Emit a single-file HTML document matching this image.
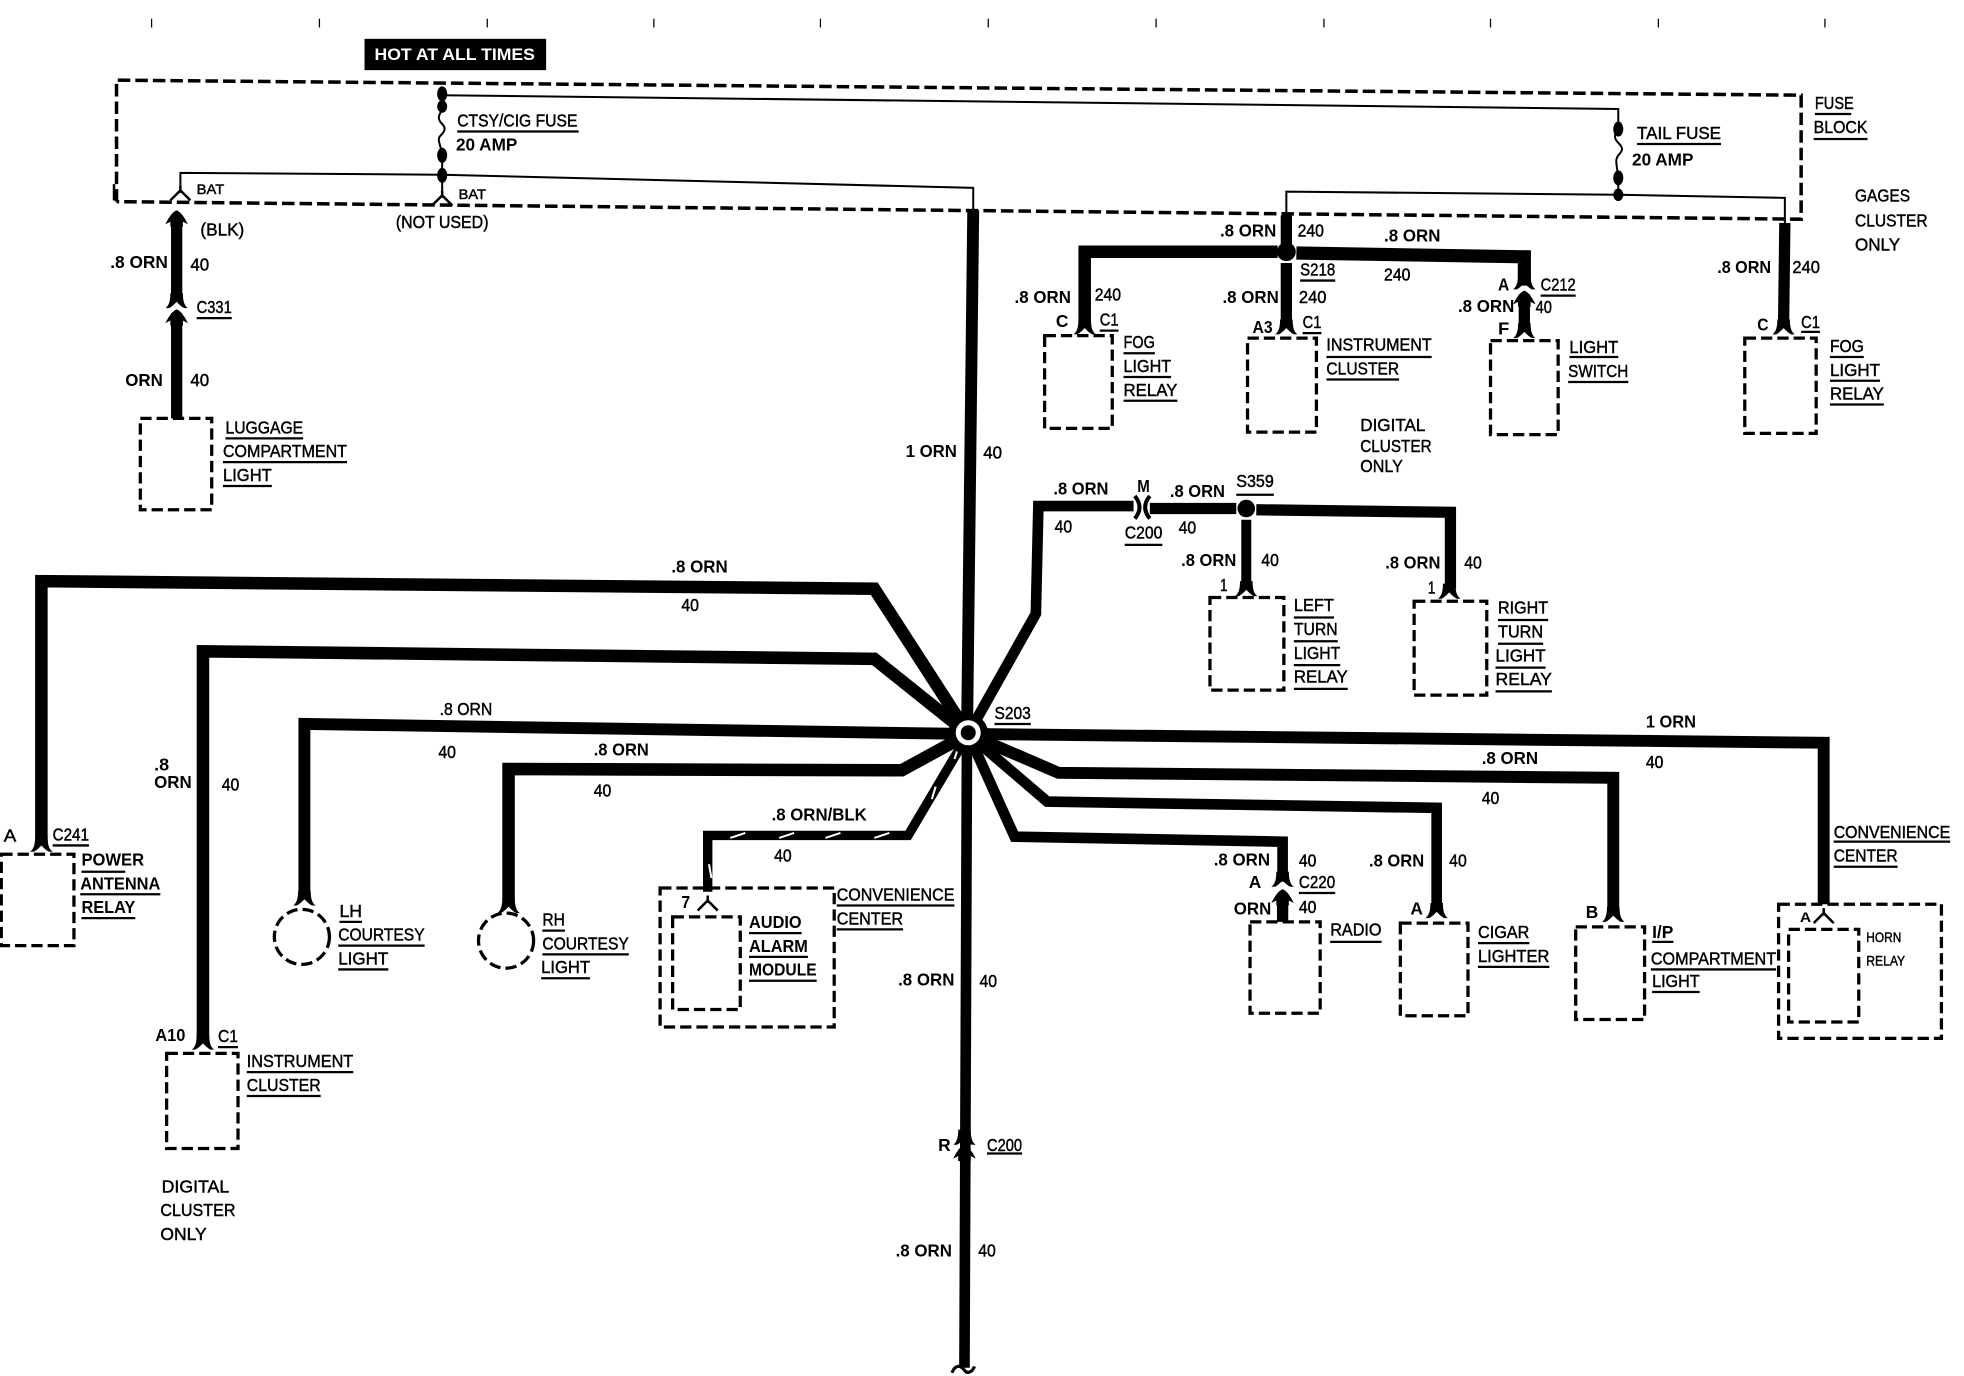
<!DOCTYPE html>
<html><head><meta charset="utf-8"><title>Wiring diagram</title>
<style>
html,body{margin:0;padding:0;background:#fff}
svg{display:block}
text{font-family:"Liberation Sans",sans-serif;font-size:14px;fill:#000}
.b{font-weight:bold}
.r{stroke:#000;stroke-width:.35}
.s{font-size:11px}
</style></head><body>
<svg xmlns="http://www.w3.org/2000/svg" width="1964" height="1376" viewBox="0 0 1568 1098.6">
<defs>
<path id="f" d="M-9 6C-6 4-5 0-5-6L5-6C5 0 6 4 9 6L6 6C4 5 2 3 0 1C-2 3-4 5-6 6Z"/>
<path id="a" d="M-9 7C-6 1-3-3 0-4C3-3 6 1 9 7L5 5L5 9L-5 9L-5 5Z"/>
<path id="y" d="M0-6V0M-8 6L0-2L8 6" fill="none" stroke="#000" stroke-width="2"/>
</defs>
<rect width="1568" height="1098.6" fill="#fff"/>
<!-- ticks -->
<path d="M121 15v7M255 15v7M389 15v7M522 15v7M655 15v7M789 15v7M923 15v7M1057 15v7M1190 15v7M1324 15v7M1457 15v7" stroke="#000" stroke-width="1" fill="none"/>
<rect x="291" y="31" width="145" height="25" fill="#000"/>
<text x="299" y="48" class="b" style="fill:#fff;font-size:13px" textLength="128" lengthAdjust="spacingAndGlyphs">HOT AT ALL TIMES</text>
<!-- fuse block -->
<path d="M93 161V64L1438 76V175L93 161" fill="none" stroke="#000" stroke-width="2.8" stroke-dasharray="10 4"/>
<path d="M91 147V160" stroke="#000" stroke-width="2"/>
<!-- thin lines -->
<g fill="none" stroke="#000" stroke-width="1.6">
<path d="M353 76L1292 87V102"/>
<path d="M353 76V88C349 93 350 96 353 99C357 103 354 106 351 109C349 112 352 116 353 124V141"/>
<path d="M1292 102C1288 108 1289 111 1292 114C1296 118 1296 120 1292 124C1289 128 1291 132 1292 142V155"/>
<path d="M144 148V138L353 139.5L777 150V172"/>
<path d="M353 141V152"/>
<path d="M1027 172V153L1292 155.5L1425 158V178"/>
</g>
<g fill="#000">
<ellipse cx="353" cy="75" rx="4" ry="6"/><ellipse cx="353" cy="85" rx="4" ry="5"/>
<ellipse cx="353" cy="124" rx="4" ry="6"/><ellipse cx="353" cy="140" rx="4" ry="6"/>
<ellipse cx="1292" cy="103" rx="4" ry="6"/><ellipse cx="1292" cy="142" rx="4" ry="6"/>
<ellipse cx="1292" cy="155.5" rx="4" ry="5"/>
</g>
<use href="#y" x="144" y="154"/><use href="#y" x="353" y="158"/>
<!-- thick wires -->
<g fill="none" stroke="#000" stroke-width="9">
<path d="M777 168L772 590" stroke-width="9.5"/>
<path d="M772 590L770 1092" stroke-width="8.5"/>
<path d="M141 172V240M141 250V334"/>
<path d="M1027 172V197M1027 210V258"/>
<path d="M866 258V201H1020" stroke-width="10"/>
<path d="M1035 202L1217 205V228" stroke-width="10.5"/>
<path d="M1217 235V262"/>
<path d="M1425 178L1424 258"/>
<path d="M773 586L698 470L33 464V672" stroke-width="10"/>
<path d="M773 586L698 526L162 520V830" stroke-width="10"/>
<path d="M773 586L243 578V712" stroke-width="9.5"/>
<path d="M773 586L720 615L406 614V718" stroke-width="10"/>
<path d="M773 586L725 667H565V712" stroke-width="7.5"/>
<path d="M773 586L1456 593V722" stroke-width="9.5"/>
<path d="M773 586L845 617L1288 621V725" stroke-width="9.5"/>
<path d="M773 586L836 640L1147 645V725" stroke-width="8.5"/>
<path d="M773 586L810 668L1024 672V704" stroke-width="8.5"/>
<path d="M773 586L827 490L829 404H905" stroke-width="8.5"/>
<path d="M918 406L987 406"/>
<path d="M1003 407L1158 409V470" stroke-width="9"/>
<path d="M995 415V470" stroke-width="8"/>
<path d="M1024 714V736"/>
</g>
<!-- S203 hub -->
<circle cx="773" cy="586" r="16" fill="#000"/>
<circle cx="773" cy="585" r="8" fill="#000" stroke="#fff" stroke-width="4"/>
<!-- junction dots -->
<circle cx="1027" cy="201" r="7.5" fill="#000"/>
<circle cx="995" cy="406" r="7" fill="#000"/>
<!-- hatch -->
<path d="M583 669L595 665M622 669L634 665M659 669L671 665M698 669L710 665M744 638L747 628M762 606L764 600M566 690L568 701" stroke="#fff" stroke-width="1.6" fill="none"/>
<!-- connectors -->
<use href="#a" x="141" y="172"/>
<use href="#f" x="141" y="240"/><use href="#a" x="141" y="251"/>
<use href="#f" x="866" y="261"/><use href="#f" x="1027" y="261"/><use href="#f" x="1217" y="264"/><use href="#f" x="1424" y="261"/>
<use href="#f" x="1217" y="225"/><use href="#a" x="1217" y="236"/>
<use href="#f" x="995" y="470"/><use href="#f" x="1157" y="472"/>
<use href="#f" x="33" y="674"/><use href="#f" x="162" y="832"/>
<use href="#f" x="243" y="717"/><use href="#f" x="406" y="723"/>
<use href="#f" x="1147" y="727"/><use href="#f" x="1288" y="730"/>
<use href="#f" x="1024" y="702"/><use href="#a" x="1024" y="714"/>
<use href="#f" x="770" y="908"/><use href="#a" x="770" y="918"/>
<use href="#y" x="565" y="721"/><use href="#y" x="1456" y="731"/>
<path d="M906 396C911 402 911 408 906 414M918 396C913 402 913 408 918 414" fill="none" stroke="#000" stroke-width="3.2"/>
<path d="M760 1096C763 1089 767 1090 770 1094C772 1097 776 1096 778 1091" fill="none" stroke="#000" stroke-width="2.5"/>
<!-- dashed boxes -->
<g fill="none" stroke="#000" stroke-width="2.6" stroke-dasharray="9 4">
<rect x="112" y="334" width="57" height="73"/>
<rect x="834" y="268" width="54" height="74"/>
<rect x="996" y="270" width="55" height="75"/>
<rect x="1190" y="272" width="54" height="75"/>
<rect x="1393" y="270" width="57" height="76"/>
<rect x="966" y="477" width="59" height="74"/>
<rect x="1129" y="480" width="58" height="75"/>
<rect x="1" y="682" width="58" height="73"/>
<rect x="133" y="841" width="57" height="76"/>
<rect x="527" y="709" width="139" height="111"/>
<rect x="537" y="732" width="54" height="74"/>
<rect x="998" y="736" width="56" height="73"/>
<rect x="1118" y="737" width="54" height="74"/>
<rect x="1258" y="740" width="55" height="74"/>
<rect x="1420" y="722" width="130" height="107"/>
<rect x="1428" y="742" width="56" height="74"/>
<circle cx="241" cy="748" r="22"/>
<circle cx="404" cy="751" r="22"/>
</g>
<!-- underlines -->
<path fill="none" stroke="#000" stroke-width="1.8" d="M1449 91H1478M1448 111H1491M365 105H462M1307 115H1374M157 254H185M180 350H242M178 369H277M178 388H217M1038 224H1066M878 264H893M897 282H922M897 301H935M897 320H940M1040 266H1055M1059 285H1143M1059 303H1117M1230 236H1258M1253 285H1292M1252 305H1300M1438 265H1453M1461 285H1488M1461 304H1501M1461 323H1504M987 395H1017M898 435H928M1033 493H1065M1033 512H1068M1033 531H1070M1033 550H1076M1196 495H1236M1196 514H1232M1194 533H1234M1194 552H1239M42 675H71M65 696H100M64 714H128M65 733H108M271 736H289M270 755H339M270 774H310M433 743H451M433 762H502M432 781H471M668 723H762M668 742H721M598 745H640M598 764H645M598 783H652M174 836H190M197 856H282M197 875H256M788 921H816M794 578H823M1037 713H1066M1062 752H1103M1180 753H1221M1180 772H1237M1319 752H1336M1318 774H1418M1319 792H1357M1464 672H1557M1464 692H1515"/>
<!-- labels -->
<g class="r">
<text x="1449" y="87" textLength="31" lengthAdjust="spacingAndGlyphs">FUSE</text>
<text x="1448" y="106" textLength="43" lengthAdjust="spacingAndGlyphs">BLOCK</text>
<text x="1481" y="161" textLength="44" lengthAdjust="spacingAndGlyphs">GAGES</text>
<text x="1481" y="181" textLength="58" lengthAdjust="spacingAndGlyphs">CLUSTER</text>
<text x="1481" y="200" textLength="36" lengthAdjust="spacingAndGlyphs">ONLY</text>
<text x="365" y="101" textLength="96" lengthAdjust="spacingAndGlyphs">CTSY/CIG FUSE</text>
<text x="1307" y="111" textLength="67" lengthAdjust="spacingAndGlyphs">TAIL FUSE</text>
<text x="157" y="155" class="s" textLength="22" lengthAdjust="spacingAndGlyphs">BAT</text>
<text x="366" y="159" class="s" textLength="22" lengthAdjust="spacingAndGlyphs">BAT</text>
<text x="160" y="188" textLength="35" lengthAdjust="spacingAndGlyphs">(BLK)</text>
<text x="316" y="182" textLength="74" lengthAdjust="spacingAndGlyphs">(NOT USED)</text>
<text x="152" y="216" textLength="15" lengthAdjust="spacingAndGlyphs">40</text>
<text x="157" y="250" textLength="28" lengthAdjust="spacingAndGlyphs">C331</text>
<text x="152" y="308" textLength="15" lengthAdjust="spacingAndGlyphs">40</text>
<text x="180" y="346" textLength="62" lengthAdjust="spacingAndGlyphs">LUGGAGE</text>
<text x="178" y="365" textLength="99" lengthAdjust="spacingAndGlyphs">COMPARTMENT</text>
<text x="178" y="384" textLength="39" lengthAdjust="spacingAndGlyphs">LIGHT</text>
<text x="785" y="366" textLength="15" lengthAdjust="spacingAndGlyphs">40</text>
<text x="1036" y="189" textLength="21" lengthAdjust="spacingAndGlyphs">240</text>
<text x="1038" y="220" textLength="28" lengthAdjust="spacingAndGlyphs">S218</text>
<text x="1105" y="224" textLength="21" lengthAdjust="spacingAndGlyphs">240</text>
<text x="874" y="240" textLength="21" lengthAdjust="spacingAndGlyphs">240</text>
<text x="878" y="260" textLength="15" lengthAdjust="spacingAndGlyphs">C1</text>
<text x="897" y="278" textLength="25" lengthAdjust="spacingAndGlyphs">FOG</text>
<text x="897" y="297" textLength="38" lengthAdjust="spacingAndGlyphs">LIGHT</text>
<text x="897" y="316" textLength="43" lengthAdjust="spacingAndGlyphs">RELAY</text>
<text x="1037" y="242" textLength="22" lengthAdjust="spacingAndGlyphs">240</text>
<text x="1040" y="262" textLength="15" lengthAdjust="spacingAndGlyphs">C1</text>
<text x="1059" y="280" textLength="84" lengthAdjust="spacingAndGlyphs">INSTRUMENT</text>
<text x="1059" y="299" textLength="58" lengthAdjust="spacingAndGlyphs">CLUSTER</text>
<text x="1230" y="232" textLength="28" lengthAdjust="spacingAndGlyphs">C212</text>
<text x="1226" y="250" textLength="13" lengthAdjust="spacingAndGlyphs">40</text>
<text x="1253" y="282" textLength="39" lengthAdjust="spacingAndGlyphs">LIGHT</text>
<text x="1252" y="301" textLength="48" lengthAdjust="spacingAndGlyphs">SWITCH</text>
<text x="1431" y="218" textLength="22" lengthAdjust="spacingAndGlyphs">240</text>
<text x="1438" y="262" textLength="15" lengthAdjust="spacingAndGlyphs">C1</text>
<text x="1461" y="281" textLength="27" lengthAdjust="spacingAndGlyphs">FOG</text>
<text x="1461" y="300" textLength="40" lengthAdjust="spacingAndGlyphs">LIGHT</text>
<text x="1461" y="319" textLength="43" lengthAdjust="spacingAndGlyphs">RELAY</text>
<text x="1086" y="344" textLength="52" lengthAdjust="spacingAndGlyphs">DIGITAL</text>
<text x="1086" y="361" textLength="57" lengthAdjust="spacingAndGlyphs">CLUSTER</text>
<text x="1086" y="377" textLength="34" lengthAdjust="spacingAndGlyphs">ONLY</text>
<text x="987" y="389" textLength="30" lengthAdjust="spacingAndGlyphs">S359</text>
<text x="842" y="425" textLength="14" lengthAdjust="spacingAndGlyphs">40</text>
<text x="898" y="430" textLength="30" lengthAdjust="spacingAndGlyphs">C200</text>
<text x="941" y="426" textLength="14" lengthAdjust="spacingAndGlyphs">40</text>
<text x="1007" y="452" textLength="14" lengthAdjust="spacingAndGlyphs">40</text>
<text x="1169" y="454" textLength="14" lengthAdjust="spacingAndGlyphs">40</text>
<text x="974" y="472" textLength="6" lengthAdjust="spacingAndGlyphs">1</text>
<text x="1140" y="474" textLength="6" lengthAdjust="spacingAndGlyphs">1</text>
<text x="1033" y="488" textLength="32" lengthAdjust="spacingAndGlyphs">LEFT</text>
<text x="1033" y="507" textLength="35" lengthAdjust="spacingAndGlyphs">TURN</text>
<text x="1033" y="526" textLength="37" lengthAdjust="spacingAndGlyphs">LIGHT</text>
<text x="1033" y="545" textLength="43" lengthAdjust="spacingAndGlyphs">RELAY</text>
<text x="1196" y="490" textLength="40" lengthAdjust="spacingAndGlyphs">RIGHT</text>
<text x="1196" y="509" textLength="36" lengthAdjust="spacingAndGlyphs">TURN</text>
<text x="1194" y="528" textLength="40" lengthAdjust="spacingAndGlyphs">LIGHT</text>
<text x="1194" y="547" textLength="45" lengthAdjust="spacingAndGlyphs">RELAY</text>
<text x="544" y="488" textLength="14" lengthAdjust="spacingAndGlyphs">40</text>
<text x="351" y="571" textLength="42" lengthAdjust="spacingAndGlyphs">.8 ORN</text>
<text x="350" y="605" textLength="14" lengthAdjust="spacingAndGlyphs">40</text>
<text x="474" y="636" textLength="14" lengthAdjust="spacingAndGlyphs">40</text>
<text x="618" y="688" textLength="14" lengthAdjust="spacingAndGlyphs">40</text>
<text x="177" y="631" textLength="14" lengthAdjust="spacingAndGlyphs">40</text>
<text x="3" y="672" textLength="10" lengthAdjust="spacingAndGlyphs">A</text>
<text x="42" y="671" textLength="29" lengthAdjust="spacingAndGlyphs">C241</text>
<text x="271" y="732" textLength="18" lengthAdjust="spacingAndGlyphs">LH</text>
<text x="270" y="751" textLength="69" lengthAdjust="spacingAndGlyphs">COURTESY</text>
<text x="270" y="770" textLength="40" lengthAdjust="spacingAndGlyphs">LIGHT</text>
<text x="433" y="739" textLength="18" lengthAdjust="spacingAndGlyphs">RH</text>
<text x="433" y="758" textLength="69" lengthAdjust="spacingAndGlyphs">COURTESY</text>
<text x="432" y="777" textLength="39" lengthAdjust="spacingAndGlyphs">LIGHT</text>
<text x="668" y="719" textLength="94" lengthAdjust="spacingAndGlyphs">CONVENIENCE</text>
<text x="668" y="738" textLength="53" lengthAdjust="spacingAndGlyphs">CENTER</text>
<text x="782" y="788" textLength="14" lengthAdjust="spacingAndGlyphs">40</text>
<text x="174" y="832" textLength="16" lengthAdjust="spacingAndGlyphs">C1</text>
<text x="197" y="852" textLength="85" lengthAdjust="spacingAndGlyphs">INSTRUMENT</text>
<text x="197" y="871" textLength="59" lengthAdjust="spacingAndGlyphs">CLUSTER</text>
<text x="129" y="952" textLength="54" lengthAdjust="spacingAndGlyphs">DIGITAL</text>
<text x="128" y="971" textLength="60" lengthAdjust="spacingAndGlyphs">CLUSTER</text>
<text x="128" y="990" textLength="37" lengthAdjust="spacingAndGlyphs">ONLY</text>
<text x="788" y="919" textLength="28" lengthAdjust="spacingAndGlyphs">C200</text>
<text x="781" y="1003" textLength="14" lengthAdjust="spacingAndGlyphs">40</text>
<text x="794" y="574" textLength="29" lengthAdjust="spacingAndGlyphs">S203</text>
<text x="1314" y="613" textLength="14" lengthAdjust="spacingAndGlyphs">40</text>
<text x="1183" y="642" textLength="14" lengthAdjust="spacingAndGlyphs">40</text>
<text x="1037" y="692" textLength="14" lengthAdjust="spacingAndGlyphs">40</text>
<text x="1037" y="709" textLength="29" lengthAdjust="spacingAndGlyphs">C220</text>
<text x="1037" y="729" textLength="14" lengthAdjust="spacingAndGlyphs">40</text>
<text x="1062" y="747" textLength="41" lengthAdjust="spacingAndGlyphs">RADIO</text>
<text x="1157" y="692" textLength="14" lengthAdjust="spacingAndGlyphs">40</text>
<text x="1180" y="749" textLength="41" lengthAdjust="spacingAndGlyphs">CIGAR</text>
<text x="1180" y="768" textLength="57" lengthAdjust="spacingAndGlyphs">LIGHTER</text>
<text x="1318" y="770" textLength="100" lengthAdjust="spacingAndGlyphs">COMPARTMENT</text>
<text x="1319" y="788" textLength="38" lengthAdjust="spacingAndGlyphs">LIGHT</text>
<text x="1464" y="669" textLength="93" lengthAdjust="spacingAndGlyphs">CONVENIENCE</text>
<text x="1464" y="688" textLength="51" lengthAdjust="spacingAndGlyphs">CENTER</text>
<text x="1490" y="752" class="s" textLength="28" lengthAdjust="spacingAndGlyphs">HORN</text>
<text x="1490" y="771" class="s" textLength="31" lengthAdjust="spacingAndGlyphs">RELAY</text>
</g>
<g class="b">
<text class="b" x="364" y="120" textLength="49" lengthAdjust="spacingAndGlyphs">20 AMP</text>
<text class="b" x="1303" y="132" textLength="49" lengthAdjust="spacingAndGlyphs">20 AMP</text>
<text class="b" x="88" y="214" textLength="46" lengthAdjust="spacingAndGlyphs">.8 ORN</text>
<text class="b" x="100" y="308" textLength="30" lengthAdjust="spacingAndGlyphs">ORN</text>
<text class="b" x="723" y="365" textLength="41" lengthAdjust="spacingAndGlyphs">1 ORN</text>
<text class="b" x="974" y="189" textLength="45" lengthAdjust="spacingAndGlyphs">.8 ORN</text>
<text class="b" x="1105" y="193" textLength="45" lengthAdjust="spacingAndGlyphs">.8 ORN</text>
<text class="b" x="810" y="242" textLength="45" lengthAdjust="spacingAndGlyphs">.8 ORN</text>
<text class="b" x="843" y="261" textLength="10" lengthAdjust="spacingAndGlyphs">C</text>
<text class="b" x="976" y="242" textLength="45" lengthAdjust="spacingAndGlyphs">.8 ORN</text>
<text class="b" x="1000" y="266" textLength="16" lengthAdjust="spacingAndGlyphs">A3</text>
<text class="b" x="1196" y="232" textLength="9" lengthAdjust="spacingAndGlyphs">A</text>
<text class="b" x="1164" y="249" textLength="45" lengthAdjust="spacingAndGlyphs">.8 ORN</text>
<text class="b" x="1196" y="267" textLength="9" lengthAdjust="spacingAndGlyphs">F</text>
<text class="b" x="1371" y="218" textLength="43" lengthAdjust="spacingAndGlyphs">.8 ORN</text>
<text class="b" x="1403" y="264" textLength="9" lengthAdjust="spacingAndGlyphs">C</text>
<text class="b" x="841" y="395" textLength="44" lengthAdjust="spacingAndGlyphs">.8 ORN</text>
<text class="b" x="908" y="393" textLength="10" lengthAdjust="spacingAndGlyphs">M</text>
<text class="b" x="934" y="397" textLength="44" lengthAdjust="spacingAndGlyphs">.8 ORN</text>
<text class="b" x="943" y="452" textLength="44" lengthAdjust="spacingAndGlyphs">.8 ORN</text>
<text class="b" x="1106" y="454" textLength="44" lengthAdjust="spacingAndGlyphs">.8 ORN</text>
<text class="b" x="536" y="457" textLength="45" lengthAdjust="spacingAndGlyphs">.8 ORN</text>
<text class="b" x="474" y="603" textLength="44" lengthAdjust="spacingAndGlyphs">.8 ORN</text>
<text class="b" x="616" y="655" textLength="76" lengthAdjust="spacingAndGlyphs">.8 ORN/BLK</text>
<text class="b" x="123" y="615" textLength="12" lengthAdjust="spacingAndGlyphs">.8</text>
<text class="b" x="123" y="629" textLength="30" lengthAdjust="spacingAndGlyphs">ORN</text>
<text class="b" x="65" y="691" textLength="50" lengthAdjust="spacingAndGlyphs">POWER</text>
<text class="b" x="64" y="710" textLength="64" lengthAdjust="spacingAndGlyphs">ANTENNA</text>
<text class="b" x="65" y="729" textLength="43" lengthAdjust="spacingAndGlyphs">RELAY</text>
<text class="b" x="544" y="725" textLength="7" lengthAdjust="spacingAndGlyphs">7</text>
<text class="b" x="598" y="741" textLength="42" lengthAdjust="spacingAndGlyphs">AUDIO</text>
<text class="b" x="598" y="760" textLength="47" lengthAdjust="spacingAndGlyphs">ALARM</text>
<text class="b" x="598" y="779" textLength="54" lengthAdjust="spacingAndGlyphs">MODULE</text>
<text class="b" x="717" y="787" textLength="45" lengthAdjust="spacingAndGlyphs">.8 ORN</text>
<text class="b" x="124" y="831" textLength="24" lengthAdjust="spacingAndGlyphs">A10</text>
<text class="b" x="749" y="919" textLength="10" lengthAdjust="spacingAndGlyphs">R</text>
<text class="b" x="715" y="1003" textLength="45" lengthAdjust="spacingAndGlyphs">.8 ORN</text>
<text class="b" x="1314" y="581" textLength="40" lengthAdjust="spacingAndGlyphs">1 ORN</text>
<text class="b" x="1183" y="610" textLength="45" lengthAdjust="spacingAndGlyphs">.8 ORN</text>
<text class="b" x="969" y="691" textLength="45" lengthAdjust="spacingAndGlyphs">.8 ORN</text>
<text class="b" x="997" y="709" textLength="10" lengthAdjust="spacingAndGlyphs">A</text>
<text class="b" x="985" y="730" textLength="30" lengthAdjust="spacingAndGlyphs">ORN</text>
<text class="b" x="1093" y="692" textLength="44" lengthAdjust="spacingAndGlyphs">.8 ORN</text>
<text class="b" x="1126" y="730" textLength="10" lengthAdjust="spacingAndGlyphs">A</text>
<text class="b" x="1266" y="733" textLength="10" lengthAdjust="spacingAndGlyphs">B</text>
<text class="b" x="1319" y="749" textLength="17" lengthAdjust="spacingAndGlyphs">I/P</text>
<text class="b" x="1437" y="736" style="font-size:11px" textLength="9" lengthAdjust="spacingAndGlyphs">A</text>
</g>
</svg>
</body></html>
